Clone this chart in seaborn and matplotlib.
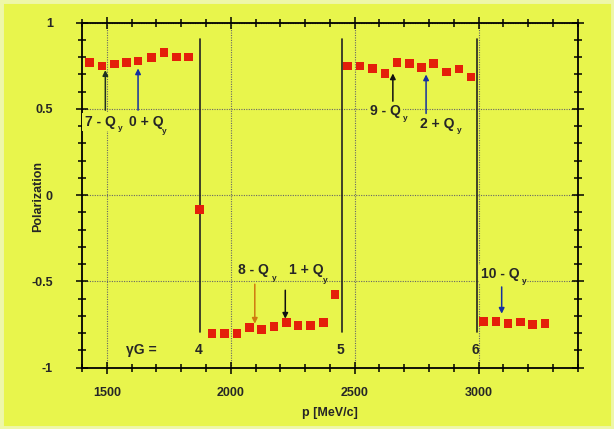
import matplotlib
matplotlib.use("Agg")
import matplotlib.pyplot as plt
from matplotlib.ticker import MultipleLocator
from matplotlib.patches import Rectangle
import seaborn as sns
import pandas as pd

# measured polarization, four groups of points
p_a = [1430, 1480, 1530, 1580, 1625, 1680, 1730, 1780, 1830, 1875]
pol_a = [0.770, 0.749, 0.760, 0.770, 0.778, 0.797, 0.826, 0.801, 0.801, -0.083]
p_b = [1925, 1975, 2025, 2075, 2125, 2175, 2225, 2272, 2322, 2374, 2421]
pol_b = [-0.803, -0.803, -0.803, -0.766, -0.778, -0.762, -0.739, -0.755, -0.755, -0.739, -0.576]
p_c = [2472, 2522, 2571, 2622, 2670, 2720, 2769, 2818, 2870, 2921, 2970]
pol_c = [0.749, 0.749, 0.733, 0.704, 0.770, 0.764, 0.741, 0.764, 0.714, 0.731, 0.685]
p_d = [3020, 3070, 3118, 3168, 3218, 3268]
pol_d = [-0.731, -0.731, -0.745, -0.735, -0.750, -0.745]

# integer resonances yG = 4, 5, 6
res_p = [1874, 2448, 2993]
res_lbl = ["4", "5", "6"]

# intrinsic resonance marks: label, p, arrow tail, arrow head, colour
ann_lbl = ["7 - Q", "0 + Q", "9 - Q", "2 + Q", "8 - Q", "1 + Q", "10 - Q"]
ann_p = [1494, 1626, 2654, 2788, 2097, 2220, 3093]
ann_from = [0.493, 0.493, 0.545, 0.474, -0.516, -0.551, -0.532]
ann_to = [0.725, 0.735, 0.706, 0.700, -0.745, -0.716, -0.687]
ann_col = ["#1f3020", "#1530a0", "#101010", "#1530a0", "#d07a10", "#101010", "#1530a0"]
txt_x = [1410, 1591, 2563, 2763, 2031, 2236, 3009]
txt_y = [0.426, 0.426, 0.487, 0.412, -0.435, -0.435, -0.455]
sub_x = [1555, 1733, 2703, 2922, 2176, 2382, 3186]
sub_y = [0.387, 0.368, 0.445, 0.373, -0.484, -0.493, -0.503]

bg = "#e8f54c"
df = pd.DataFrame({"p": p_a + p_b + p_c + p_d, "pol": pol_a + pol_b + pol_c + pol_d})

sns.set_style("ticks")
plt.rcParams["font.family"] = ["Liberation Sans", "DejaVu Sans"]
plt.rcParams["font.weight"] = "bold"

fig = plt.figure(figsize=(6.14, 4.29), dpi=100, facecolor=bg)
fig.patches.append(Rectangle((0, 0), 1, 1, transform=fig.transFigure, fill=False,
                             edgecolor="#eef7a8", linewidth=5))
ax = fig.add_axes([0.1336, 0.1429, 0.8074, 0.8042])
ax.set_facecolor(bg)

ax.set_xlim(1400, 3400)
ax.set_ylim(-1, 1)
ax.xaxis.set_minor_locator(MultipleLocator(100))
ax.yaxis.set_minor_locator(MultipleLocator(0.1))
ax.set_xticks([1500, 2000, 2500, 3000])
ax.set_yticks([-1, -0.5, 0, 0.5, 1])
ax.set_yticklabels(["-1", "-0.5", "0", "0.5", "1"])
ax.grid(True, which="major", linestyle=(0, (1, 1.2)), color="#666666", linewidth=0.8)
ax.tick_params(which="both", direction="inout", top=True, right=True, color="black",
               labelsize=9, width=1.1)
ax.tick_params(which="major", length=8)
ax.tick_params(axis="x", which="major", pad=10)
ax.tick_params(axis="y", which="major", pad=17)
ax.tick_params(which="minor", length=6)
for lab in ax.get_xticklabels() + ax.get_yticklabels():
    lab.set_fontweight("bold")
for s in ax.spines.values():
    s.set_color("black")
    s.set_linewidth(1.3)

for x, lbl in zip(res_p, res_lbl):
    ax.plot([x, x], [-0.793, 0.905], color="#222222", linewidth=1.2, zorder=3)
    ax.text(x - 5, -0.90, lbl, ha="center", va="center", fontsize=10, fontweight="bold")
ax.text(1579, -0.90, "γG =", ha="left", va="center", fontsize=10, fontweight="bold")

sns.scatterplot(data=df, x="p", y="pol", marker="s", s=38, color="#e41e0a",
                edgecolor="none", ax=ax, zorder=4)

for i in range(len(ann_lbl)):
    ax.annotate("", xy=(ann_p[i], ann_to[i]), xytext=(ann_p[i], ann_from[i]),
                arrowprops=dict(arrowstyle="-|>", color=ann_col[i], lw=1.1,
                                mutation_scale=8, shrinkA=0, shrinkB=0), zorder=5)
    ax.text(txt_x[i], txt_y[i], ann_lbl[i], ha="left", va="center", fontsize=10,
            fontweight="bold", zorder=5,
            bbox=dict(facecolor=bg, edgecolor="none", pad=1.5))
    ax.text(sub_x[i], sub_y[i], "y", ha="center", va="center", fontsize=6,
            fontweight="bold", zorder=5)

ax.set_xlabel("p [MeV/c]", fontsize=9, fontweight="bold", labelpad=6)
ax.set_ylabel("Polarization", fontsize=9, fontweight="bold")
ax.yaxis.set_label_coords(-0.077, 0.495)

fig.savefig("out.png", dpi=100, facecolor=bg)
